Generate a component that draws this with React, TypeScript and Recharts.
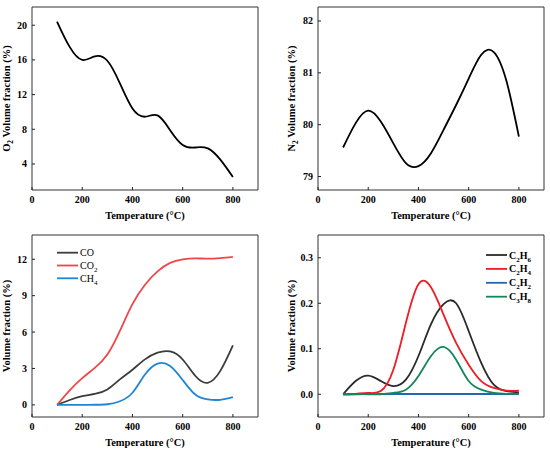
import { LineChart, Line, XAxis, YAxis, ReferenceArea } from 'recharts';

// temperature grid (°C) shared by every panel
const temps = [100, 150, 200, 250, 300, 350, 400, 450, 500, 550, 600, 650, 700, 750, 800];

const o2 = [20.4, 17.5, 16.0, 16.4, 15.9, 13.3, 10.4, 9.45, 9.6, 7.9, 6.2, 5.9, 5.8, 4.5, 2.5];
const n2 = [79.56, 80.03, 80.27, 80.06, 79.64, 79.26, 79.2, 79.45, 79.9, 80.38, 80.89, 81.35, 81.4, 80.85, 79.77];

const co = [0, 0.4, 0.72, 0.9, 1.27, 2.1, 2.9, 3.75, 4.3, 4.4, 3.74, 2.4, 1.82, 2.8, 4.9];
const co2 = [0, 1.2, 2.2, 3.05, 4.15, 6.1, 8.3, 9.9, 11.0, 11.7, 12.0, 12.08, 12.05, 12.1, 12.2];
const ch4 = [0, 0, 0, 0.01, 0.05, 0.3, 1.0, 2.5, 3.4, 3.2, 2.05, 0.85, 0.45, 0.42, 0.64];

const c2h6 = [0, 0.029, 0.041, 0.029, 0.018, 0.032, 0.084, 0.154, 0.198, 0.2, 0.139, 0.069, 0.021, 0.007, 0.004];
const c2h4 = [0, 0.001, 0.003, 0.007, 0.054, 0.157, 0.242, 0.235, 0.175, 0.113, 0.065, 0.029, 0.014, 0.008, 0.008];
const c2h2 = [0, 0.0005, 0.0005, 0.0005, 0.0005, 0.0005, 0.0005, 0.0005, 0.0005, 0.0005, 0.0005, 0.0005, 0.0005, 0.0005, 0.0005];
const c3h8 = [0, 0, 0, 0, 0.003, 0.01, 0.04, 0.084, 0.104, 0.076, 0.029, 0.01, 0.003, 0.001, 0.001];

const xTicks = [0, 200, 400, 600, 800];
const o2Ticks = [4, 8, 12, 16, 20];
const n2Ticks = [79, 80, 81, 82];
const mainGasTicks = [0, 3, 6, 9, 12];
const hydroTicks = [0, 0.1, 0.2, 0.3];

const FONT = '"Liberation Serif", "Times New Roman", serif';
const INK = '#222';
const LW = 1.8;

const buildRows = (cols: Record<string, number[]>) =>
  temps.map((t, i) => {
    const row: any = { t };
    Object.keys(cols).forEach((k) => (row[k] = cols[k][i]));
    return row;
  });

const o2Data = buildRows({ o2 });
const n2Data = buildRows({ n2 });
const mainGasData = buildRows({ co, co2, ch4 });
const hydroData = buildRows({ c2h6, c2h4, c2h2, c3h8 });

const mainGasSeries = [
  { key: 'co', name: 'CO', color: '#3c3c3c' },
  { key: 'co2', name: 'CO2', color: '#f0464a' },
  { key: 'ch4', name: 'CH4', color: '#1f86d6' },
];

const hydroSeries = [
  { key: 'c2h6', name: 'C2H6', color: '#2a2a2a' },
  { key: 'c2h4', name: 'C2H4', color: '#ee1c25' },
  { key: 'c2h2', name: 'C2H2', color: '#2468ac' },
  { key: 'c3h8', name: 'C3H8', color: '#14855f' },
];

// turns the digits of a formula into subscripts
function chem(s: string, size: number) {
  const parts = s.split(/(\d+)/).filter(Boolean);
  let down = false;
  return parts.map((p, i) => {
    if (/^\d+$/.test(p)) {
      down = true;
      return (
        <tspan key={i} dy={size * 0.3} fontSize={size * 0.7}>
          {p}
        </tspan>
      );
    }
    const dy = down ? -size * 0.3 : 0;
    down = false;
    return (
      <tspan key={i} dy={dy}>
        {p}
      </tspan>
    );
  });
}

const XTick = ({ x, y, payload }: any) => (
  <g>
    <line x1={x} x2={x} y1={y} y2={y - 3} stroke={INK} />
    <text x={x} y={y + 13} textAnchor="middle" fontFamily={FONT} fontWeight="bold" fontSize={10} fill="#000">
      {payload.value}
    </text>
  </g>
);

const yTick = (fmt: (v: number) => string) => ({ x, y, payload }: any) => (
  <g>
    <line x1={x} x2={x + 3} y1={y} y2={y} stroke={INK} />
    <text x={x - 5} y={y + 3.5} textAnchor="end" fontFamily={FONT} fontWeight="bold" fontSize={10} fill="#000">
      {fmt(payload.value)}
    </text>
  </g>
);

const xTitle = (props: any) => {
  const vb = props.viewBox;
  return (
    <text x={vb.x + vb.width / 2} y={vb.y + 28.5} textAnchor="middle" fontFamily={FONT} fontWeight="bold" fontSize={10.5} fill="#000">
      Temperature (°C)
    </text>
  );
};

const yTitle = (title: string, gap: number) => (props: any) => {
  const vb = props.viewBox;
  const x = vb.x - gap;
  const y = vb.y + vb.height / 2;
  return (
    <text x={x} y={y} transform={`rotate(-90, ${x}, ${y})`} textAnchor="middle" fontFamily={FONT} fontWeight="bold" fontSize={10.5} fill="#000">
      {chem(title, 10.5)}
    </text>
  );
};

const SeriesKey = ({ items, x, y, gap, bold }: any) => (
  <g>
    {items.map((it: any, i: number) => (
      <g key={it.key}>
        <line x1={x} x2={x + 21} y1={y + i * gap} y2={y + i * gap} stroke={it.color} strokeWidth={LW} />
        <text x={x + 23} y={y + i * gap + 3.5} fontFamily={FONT} fontWeight={bold ? 'bold' : 'normal'} fontSize={10} fill="#000">
          {chem(it.name, 10)}
        </text>
      </g>
    ))}
  </g>
);

function Panel({ left, top, width, height, margin, data, yDomain, yTicks, fmt, title, titleGap, children }: any) {
  return (
    <div style={{ position: 'absolute', left, top, width, height }}>
      <LineChart width={width} height={height} data={data} margin={margin}>
        <XAxis
          type="number"
          dataKey="t"
          domain={[0, 900]}
          ticks={xTicks}
          interval={0}
          height={1}
          axisLine={false}
          tickLine={false}
          tickSize={0}
          tickMargin={0}
          tick={<XTick />}
          label={xTitle}
        />
        <YAxis
          type="number"
          domain={yDomain}
          ticks={yTicks}
          interval={0}
          width={1}
          allowDataOverflow
          axisLine={false}
          tickLine={false}
          tickSize={0}
          tickMargin={0}
          tick={yTick(fmt)}
          label={yTitle(title, titleGap)}
        />
        <ReferenceArea x1={0} x2={900} y1={yDomain[0]} y2={yDomain[1]} fill="none" stroke="#333" strokeWidth={1} />
        {children}
      </LineChart>
    </div>
  );
}

export default function App() {
  const plain = (v: number) => String(v);
  return (
    <div style={{ position: 'absolute', left: 0, top: 0, width: 550, height: 455, background: '#fff' }}>
      <Panel
        left={0}
        top={0}
        width={275}
        height={225}
        margin={{ top: 7, right: 17, bottom: 34, left: 31 }}
        data={o2Data}
        yDomain={[1, 22.1]}
        yTicks={o2Ticks}
        fmt={plain}
        title="O2 Volume fraction (%)"
        titleGap={21}
      >
        <Line type="natural" dataKey="o2" stroke="#000" strokeWidth={LW} dot={false} isAnimationActive={false} />
      </Panel>
      <Panel
        left={275}
        top={0}
        width={275}
        height={225}
        margin={{ top: 7, right: 6, bottom: 34, left: 42 }}
        data={n2Data}
        yDomain={[78.74, 82.27]}
        yTicks={n2Ticks}
        fmt={plain}
        title="N2 Volume fraction (%)"
        titleGap={22}
      >
        <Line type="natural" dataKey="n2" stroke="#000" strokeWidth={LW} dot={false} isAnimationActive={false} />
      </Panel>
      <Panel
        left={0}
        top={225}
        width={275}
        height={230}
        margin={{ top: 10, right: 17, bottom: 37, left: 31 }}
        data={mainGasData}
        yDomain={[-1, 14]}
        yTicks={mainGasTicks}
        fmt={plain}
        title="Volume fraction (%)"
        titleGap={21}
      >
        {mainGasSeries.map((s) => (
          <Line key={s.key} type="natural" dataKey={s.key} stroke={s.color} strokeWidth={LW} dot={false} isAnimationActive={false} />
        ))}
        <SeriesKey items={mainGasSeries} x={57} y={27.7} gap={12.8} bold={false} />
      </Panel>
      <Panel
        left={275}
        top={225}
        width={275}
        height={230}
        margin={{ top: 10, right: 6, bottom: 37, left: 42 }}
        data={hydroData}
        yDomain={[-0.05, 0.35]}
        yTicks={hydroTicks}
        fmt={(v: number) => v.toFixed(1)}
        title="Volume fraction (%)"
        titleGap={22}
      >
        {hydroSeries.map((s) => (
          <Line key={s.key} type="natural" dataKey={s.key} stroke={s.color} strokeWidth={LW} dot={false} isAnimationActive={false} />
        ))}
        <SeriesKey items={hydroSeries} x={211} y={30} gap={13.9} bold />
      </Panel>
    </div>
  );
}
